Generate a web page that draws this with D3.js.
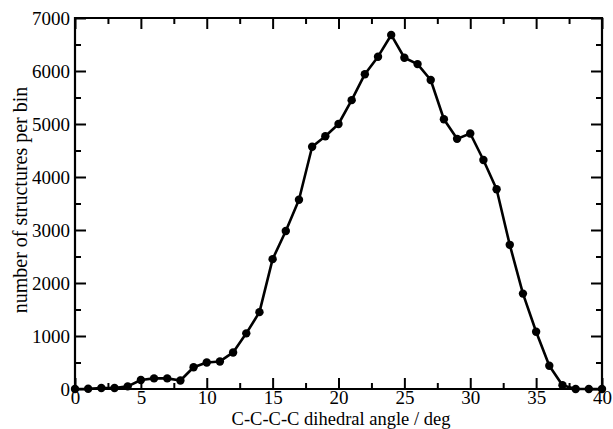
<!DOCTYPE html>
<html>
<head>
<meta charset="utf-8">
<script src="https://cdn.jsdelivr.net/npm/d3@7"></script>
<style>
  body { margin: 0; background: #fff; }
  svg text { font-family: "Liberation Serif", "Times New Roman", serif; fill: #000; }
  .tick line { stroke: #000; stroke-width: 2px; }
</style>
</head>
<body>
<script>
// dihedral angle bins (deg) and counts per bin
var angles = d3.range(0, 41);
var counts = [0, 5, 20, 20, 50, 170, 200, 200, 160, 410,
  500, 520, 690, 1050, 1450, 2450, 2980, 3570, 4570, 4770,
  5000, 5450, 5940, 6270, 6680, 6250, 6130, 5830, 5090, 4720,
  4820, 4320, 3770, 2720, 1800, 1080, 440, 70, 0, 0, 0];
var xMajor = [0, 5, 10, 15, 20, 25, 30, 35, 40];
var yMajor = [0, 1000, 2000, 3000, 4000, 5000, 6000, 7000];

var W = 613, H = 429;
var margin = {left: 75, right: 11, top: 18, bottom: 40};
var width = W - margin.left - margin.right;
var height = H - margin.top - margin.bottom;

var svg = d3.select("body").append("svg")
    .attr("width", W).attr("height", H);
var g = svg.append("g")
    .attr("transform", "translate(" + margin.left + "," + margin.top + ")");

var x = d3.scaleLinear().domain([0, 40]).range([0, width]);
var y = d3.scaleLinear().domain([0, 7000]).range([height, 0]);

var xMinor = d3.range(2.5, 40, 5);
var yMinor = d3.range(500, 7000, 1000);

// build an axis with inward ticks; labels only when asked
function mkAxis(axis, vals, size, pad) {
  return axis.tickValues(vals).tickSizeInner(size).tickSizeOuter(0)
      .tickPadding(pad || 0)
      .tickFormat(pad ? d3.format("d") : function() { return ""; });
}

function styleAxis(sel) {
  sel.attr("font-family", null).attr("font-size", null);
  sel.select(".domain").remove();
  sel.selectAll(".tick line").style("stroke", "#000").style("stroke-width", "2px");
  sel.selectAll(".tick text").style("fill", "#000").style("font-size", "19px");
}

// bottom
g.append("g").attr("transform", "translate(0," + height + ")")
    .call(mkAxis(d3.axisBottom(x), xMajor, -11, 1)).call(styleAxis);
g.append("g").attr("transform", "translate(0," + height + ")")
    .call(mkAxis(d3.axisBottom(x), xMinor, -6)).call(styleAxis);
// top
g.append("g").call(mkAxis(d3.axisTop(x), xMajor, -11)).call(styleAxis);
g.append("g").call(mkAxis(d3.axisTop(x), xMinor, -6)).call(styleAxis);
// left
g.append("g").call(mkAxis(d3.axisLeft(y), yMajor, -11, 5)).call(styleAxis);
g.append("g").call(mkAxis(d3.axisLeft(y), yMinor, -6)).call(styleAxis);
// right
g.append("g").attr("transform", "translate(" + width + ",0)")
    .call(mkAxis(d3.axisRight(y), yMajor, -11)).call(styleAxis);
g.append("g").attr("transform", "translate(" + width + ",0)")
    .call(mkAxis(d3.axisRight(y), yMinor, -6)).call(styleAxis);

// frame, drawn as a closed path through the scale corners
var corners = [[0, 0], [40, 0], [40, 7000], [0, 7000]];
g.append("path")
    .datum(corners)
    .style("fill", "none").style("stroke", "#000").style("stroke-width", "2.2px")
    .attr("d", d3.line().x(function(d) { return x(d[0]); })
                        .y(function(d) { return y(d[1]); })
                        .curve(d3.curveLinearClosed));

var pts = angles.map(function(a, i) { return [a, counts[i]]; });

g.append("path").datum(pts)
    .style("fill", "none").style("stroke", "#000").style("stroke-width", "2.6px")
    .attr("stroke-linejoin", "round")
    .attr("d", d3.line().x(function(d) { return x(d[0]); })
                        .y(function(d) { return y(d[1]); }));

g.selectAll("circle.pt").data(pts).enter().append("circle")
    .attr("class", "pt")
    .attr("cx", function(d) { return x(d[0]); })
    .attr("cy", function(d) { return y(d[1]); })
    .attr("r", 4.2).style("fill", "#000");

// axis titles
svg.append("text")
    .attr("x", 341).attr("y", 424.5)
    .attr("text-anchor", "middle").style("font-size", "18.5px")
    .text("C-C-C-C dihedral angle / deg");

svg.append("text")
    .attr("transform", "translate(27,200) rotate(-90)")
    .attr("text-anchor", "middle").style("font-size", "20px")
    .text("number of structures per bin");
</script>
</body>
</html>
